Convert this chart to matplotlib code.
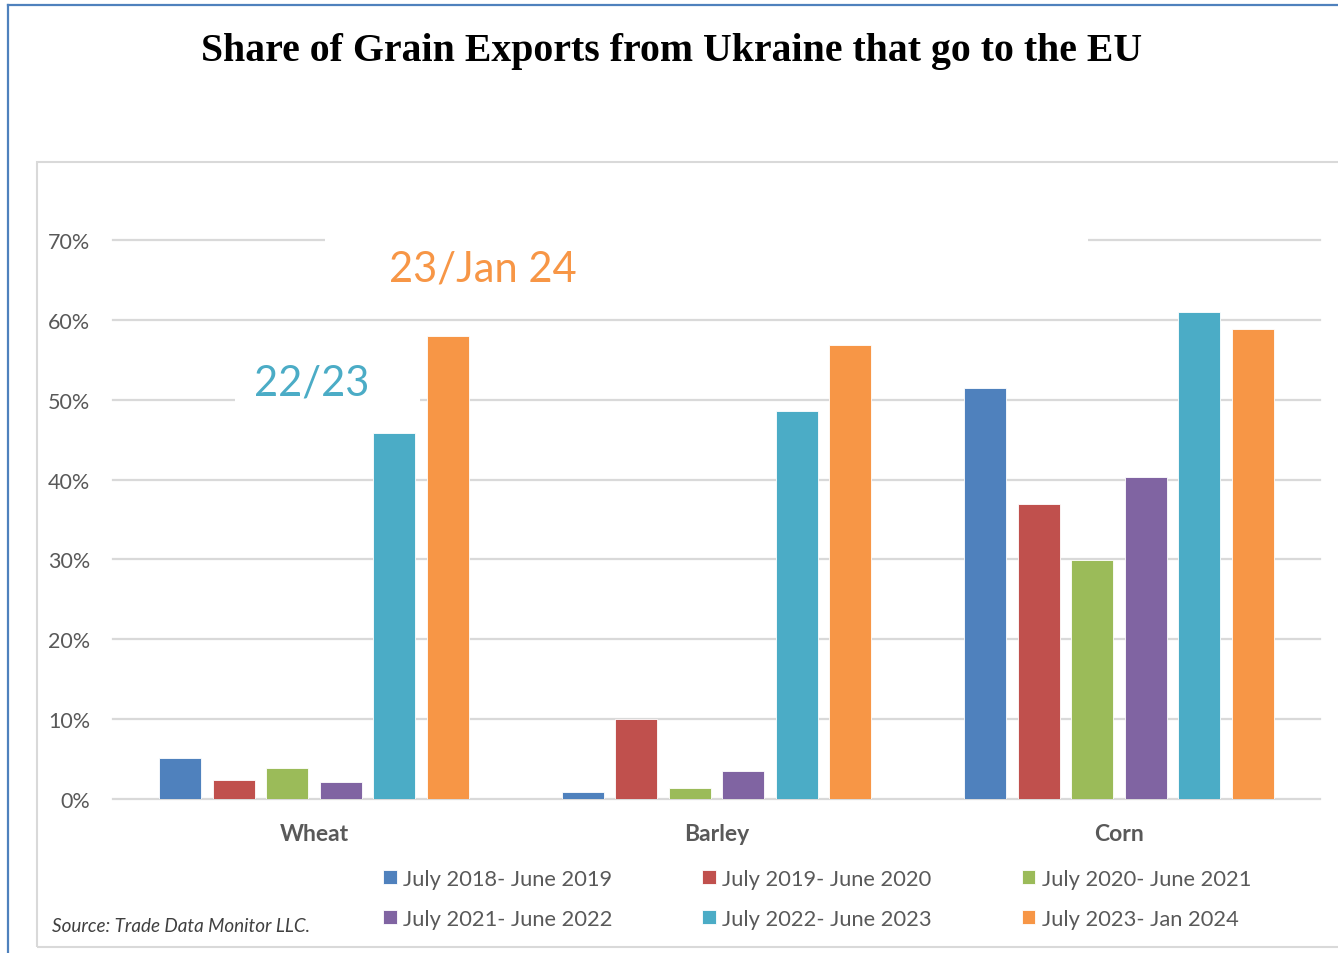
import matplotlib
matplotlib.use("Agg")
import matplotlib.pyplot as plt
import numpy as np
from matplotlib.patches import Rectangle
from matplotlib.lines import Line2D

categories = ["Wheat", "Barley", "Corn"]
series_labels = ["July 2018- June 2019", "July 2019- June 2020", "July 2020- June 2021",
                 "July 2021- June 2022", "July 2022- June 2023", "July 2023- Jan 2024"]
v_2018_19 = [0.051, 0.009, 0.515]
v_2019_20 = [0.024, 0.100, 0.369]
v_2020_21 = [0.039, 0.014, 0.299]
v_2021_22 = [0.021, 0.035, 0.403]
v_2022_23 = [0.458, 0.486, 0.610]
v_2023_24 = [0.580, 0.568, 0.589]
series_values = [v_2018_19, v_2019_20, v_2020_21, v_2021_22, v_2022_23, v_2023_24]
colors = ["#4F81BD", "#C0504D", "#9BBB59", "#8064A2", "#4BACC6", "#F79646"]
yticks = [0, 0.1, 0.2, 0.3, 0.4, 0.5, 0.6, 0.7]
ytick_labels = ["0%", "10%", "20%", "30%", "40%", "50%", "60%", "70%"]

W, H = 1338, 954
fig = plt.figure(figsize=(W / 100, H / 100), dpi=100)
fig.patch.set_facecolor("white")

# outer frames
fig.add_artist(Line2D([8 / W, 8 / W], [0, 1 - 6 / H], color="#4F81BD", lw=1.6))
fig.add_artist(Line2D([8 / W, 1], [1 - 6 / H, 1 - 6 / H], color="#4F81BD", lw=1.6))
fig.add_artist(Rectangle((37 / W, 1 - 948 / H), 1.2, (948 - 163) / H, transform=fig.transFigure,
                         fill=False, edgecolor="#D9D9D9", lw=1.5))

ax = fig.add_axes([113 / W, 1 - 800 / H, (1320 - 113) / W, (800 - 241) / H])
ax.set_xlim(-0.5, 2.5)
ax.set_ylim(0, 0.7)
for s in ax.spines.values():
    s.set_visible(False)

x = np.arange(len(categories))
pitch = 53.5 / 402.33
width = 42 / 402.33
for i, (vals, c, lab) in enumerate(zip(series_values, colors, series_labels)):
    ax.bar(x + (i - 2.5) * pitch, vals, width=width, color=c, label=lab, zorder=3,
           edgecolor="white", linewidth=0.6)

for t in yticks:
    ax.axhline(t, color="#D9D9D9", lw=1.6, zorder=1, clip_on=False)

# white boxes behind annotations
ax.add_patch(Rectangle((-0.196, 0.47), 0.459, 0.085, facecolor="white", edgecolor="none", zorder=2))
ax.add_patch(Rectangle((0.027, 0.64), 1.897, 0.075, facecolor="white", edgecolor="none", zorder=2, clip_on=False))

ax.text(-0.005, 0.522, "22/23", color="#4BACC6", fontsize=30, family="Lato",
        ha="center", va="center", zorder=4)
ax.text(0.42, 0.664, "23/Jan 24", color="#F79646", fontsize=30, family="Lato",
        ha="center", va="center", zorder=4, clip_on=False)

ax.set_yticks(yticks)
ax.set_yticklabels(ytick_labels, family="Lato", fontsize=15.5, color="#595959")
ax.set_xticks(x)
ax.set_xticklabels(categories, family="Lato", fontsize=16.5, fontweight="bold", color="#595959")
ax.tick_params(axis="both", length=0)
ax.tick_params(axis="y", pad=16.5)
ax.tick_params(axis="x", pad=17.5)

fig.text(672 / W, 1 - 52 / H, "Share of Grain Exports from Ukraine that go to the EU",
         ha="center", va="center", family="Liberation Serif", fontweight="bold", fontsize=28.6)

fig.text(52 / W, 1 - 927 / H, "Source: Trade Data Monitor LLC.", ha="left", va="center",
         family="Lato", style="italic", fontsize=13.6, color="#404040")

handles, labels = ax.get_legend_handles_labels()
order = [0, 3, 1, 4, 2, 5]
leg = fig.legend([handles[k] for k in order], [labels[k] for k in order], ncol=3,
                 loc="upper left", bbox_to_anchor=(383 / W, 1 - 870 / H), frameon=False,
                 prop={"family": "Lato", "size": 15.75}, handlelength=0.62, handleheight=0.62,
                 handletextpad=0.3, columnspacing=4.1, labelspacing=0.9, borderpad=0, borderaxespad=0)
for t in leg.get_texts():
    t.set_color("#595959")

fig.savefig("out.png", dpi=100)
